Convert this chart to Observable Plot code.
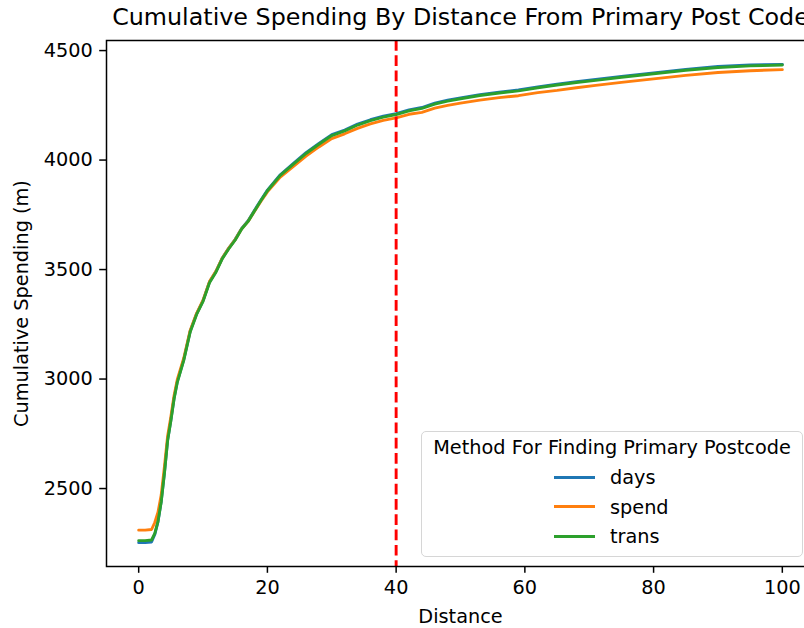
<!DOCTYPE html>
<html><head><meta charset="utf-8">
<script src="https://cdn.jsdelivr.net/npm/d3@7"></script>
<script src="https://cdn.jsdelivr.net/npm/@observablehq/plot@0.6"></script>
<style>
body{margin:0;background:#fff;}
#wrap{position:relative;width:804px;height:628px;overflow:hidden;font-family:"DejaVu Sans",sans-serif;color:#000;background:#fff;}
#title{position:absolute;left:0;width:921px;top:3px;text-align:center;font-size:23.8px;line-height:28px;white-space:nowrap;}
#legend{position:absolute;left:421px;top:431px;width:382px;height:126px;border:1.2px solid #d6d6d6;border-radius:5px;background:rgba(255,255,255,0.8);box-sizing:border-box;}
.lt{position:absolute;font-size:19.3px;line-height:22px;white-space:nowrap;}
.lh{position:absolute;left:554px;width:41px;height:3px;}
</style>
</head><body>
<div id="wrap">
<div id="chart"></div>
<div id="title">Cumulative Spending By Distance From Primary Post Code</div>
<div id="legend"></div>
</div>
<script>
const methods = ["days", "spend", "trans"];
const colors = ["#1f77b4", "#ff7f0e", "#2ca02c"];
const xTicks = [0, 20, 40, 60, 80, 100];
const yTicks = [2500, 3000, 3500, 4000, 4500];
const cutoff = [40];
const distance = [0,1,2,2.5,3,3.5,4,4.5,5,5.5,6,7,8,9,10,11,12,13,14,15,16,17,18,19,20,22,24,26,28,30,32,34,36,38,40,42,44,46,48,50,53,56,59,62,65,68,71,75,80,85,90,95,100];
const days = [2253,2253,2256,2290,2348,2440,2572,2722,2812,2912,2988,3088,3218,3298,3358,3443,3491,3553,3598,3638,3688,3723,3771,3818,3863,3933,3984,4034,4076,4116,4137,4164,4184,4200,4212,4229,4240,4260,4273,4284,4299,4310,4320,4334,4347,4358,4368,4382,4398,4414,4427,4434,4437];
const spend = [2310,2310,2313,2345,2392,2470,2600,2740,2828,2925,2998,3095,3222,3300,3360,3445,3492,3553,3598,3637,3686,3720,3766,3812,3855,3922,3970,4018,4060,4098,4120,4145,4165,4181,4193,4209,4218,4237,4250,4260,4274,4285,4294,4308,4318,4330,4341,4355,4371,4387,4400,4408,4413];
const trans = [2262,2262,2265,2295,2350,2440,2570,2720,2810,2910,2985,3085,3215,3295,3355,3440,3488,3550,3595,3635,3685,3720,3768,3815,3860,3930,3980,4030,4072,4112,4133,4160,4180,4196,4208,4225,4236,4256,4269,4280,4295,4306,4316,4330,4343,4354,4364,4378,4394,4410,4423,4430,4434];

const seriesValues = {days, spend, trans};
const data = [];
for (const m of methods) {
  seriesValues[m].forEach((v, i) => data.push({method: m, distance: distance[i], value: v}));
}

const chart = Plot.plot({
  width: 804,
  height: 628,
  marginLeft: 106,
  marginRight: -10,
  marginTop: 40,
  marginBottom: 62,
  style: {fontFamily: "DejaVu Sans", fontSize: "19.3px", color: "#000", background: "#fff"},
  x: {domain: [-5, 105], label: "Distance", labelArrow: "none"},
  y: {domain: [2144, 4546], label: "Cumulative Spending (m)", labelArrow: "none"},
  color: {domain: methods, range: colors},
  marks: [
    Plot.lineY(data, {x: "distance", y: "value", stroke: "method", strokeWidth: 2.9}),
    Plot.ruleX(cutoff, {stroke: "#ff0000", strokeWidth: 2.9, strokeDasharray: "10.7,4.6"}),
    Plot.frame({stroke: "#000", strokeWidth: 1.5}),
    Plot.axisX({ticks: xTicks, tickSize: 6.8, tickPadding: 6.8, strokeWidth: 1.5, label: "Distance", labelAnchor: "center", labelOffset: 56, labelArrow: "none"}),
    Plot.axisY({ticks: yTicks, tickFormat: d => String(d), tickSize: 6.8, tickPadding: 6.8, strokeWidth: 1.5, label: "Cumulative Spending (m)", labelAnchor: "center", labelOffset: 92, labelArrow: "none"})
  ]
});
document.getElementById("chart").appendChild(chart);

// legend
const wrap = document.getElementById("wrap");
const lt = document.createElement("div");
lt.className = "lt";
lt.style.left = "421px"; lt.style.width = "382px"; lt.style.textAlign = "center"; lt.style.top = "437px";
lt.textContent = "Method For Finding Primary Postcode";
wrap.appendChild(lt);
const rowY = [477, 506.5, 536];
methods.forEach((m, i) => {
  const h = document.createElement("div");
  h.className = "lh";
  h.style.top = (rowY[i] - 1.5) + "px";
  h.style.background = colors[i];
  wrap.appendChild(h);
  const t = document.createElement("div");
  t.className = "lt";
  t.style.left = "610px";
  t.style.top = (rowY[i] - 10) + "px";
  t.textContent = m;
  wrap.appendChild(t);
});
</script>
</body></html>
